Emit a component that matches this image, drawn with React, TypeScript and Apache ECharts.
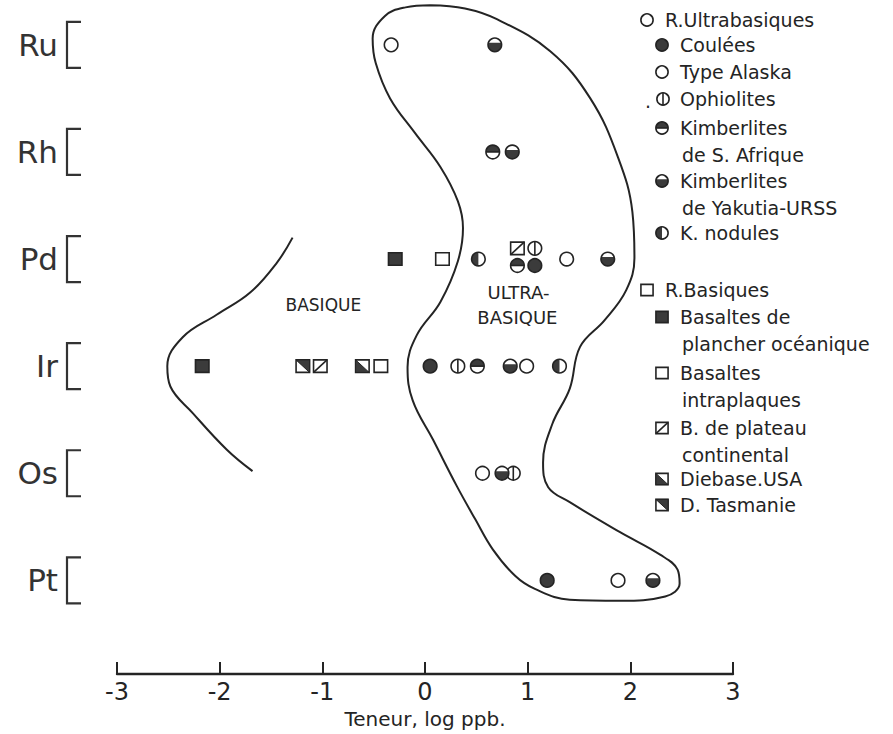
import React, { useEffect, useRef } from 'react';
import * as echarts from 'echarts';

const FONT = '"DejaVu Sans", "Noto Sans", sans-serif';
const INK = '#242424';
const DARK = '#3b3b3b';

// categories bottom (index 0) to top (index 5)
const categories = ['Pt', 'Os', 'Ir', 'Pd', 'Rh', 'Ru'];
const xTickValues = [-3, -2, -1, 0, 1, 2, 3];

// [log ppb, element index]
const typeAlaska = [[-0.33, 5], [1.38, 3], [0.99, 2], [0.56, 1], [1.88, 0]];
const coulees = [[1.07, 2.94], [0.05, 2], [1.19, 0]];
const ophiolites = [[1.07, 3.1], [0.32, 2], [0.86, 1]];
const kimbSAfrique = [[0.66, 4], [0.9, 2.94], [0.51, 2]];
const kimbYakutia = [[0.68, 5], [0.85, 4], [1.78, 3], [0.83, 2], [0.75, 1], [2.22, 0]];
const kNodules = [[0.52, 3], [1.31, 2]];
const basaltesOcean = [[-0.29, 3], [-2.17, 2]];
const basaltesIntra = [[0.17, 3], [-0.43, 2]];
const plateauCont = [[0.9, 3.1], [-1.02, 2]];
const diabaseUSA = [[-0.61, 2]];
const tasmanie = [[-1.19, 2]];

// envelopes [log ppb, element index]
const ultraEnvelope = [
  [0.05, 5.37], [0.39, 5.34], [0.7, 5.24], [1.22, 4.94], [1.61, 4.5], [1.88, 3.95],
  [2.02, 3.44], [2.04, 3.01], [1.96, 2.71], [1.75, 2.43], [1.51, 2.18], [1.41, 1.79],
  [1.24, 1.46], [1.15, 1.1], [1.2, 0.87], [1.41, 0.73], [1.9, 0.45], [2.29, 0.24],
  [2.46, 0.1], [2.48, -0.03], [2.34, -0.15], [1.9, -0.19], [1.41, -0.18], [1.07, -0.08],
  [0.88, 0.04], [0.66, 0.29], [0.49, 0.57], [0.31, 0.88], [0.08, 1.31], [-0.12, 1.68],
  [-0.17, 1.99], [-0.08, 2.29], [0.15, 2.6], [0.32, 2.98], [0.37, 3.29], [0.32, 3.54],
  [0.15, 3.86], [-0.1, 4.18], [-0.34, 4.5], [-0.48, 4.83], [-0.51, 5.06], [-0.39, 5.27],
  [-0.19, 5.35], [0.05, 5.37],
];
const basiqueEnvelope = [
  [-1.29, 3.2], [-1.44, 2.97], [-1.7, 2.69], [-2.03, 2.48], [-2.36, 2.27], [-2.51, 2.0],
  [-2.48, 1.81], [-2.26, 1.56], [-1.93, 1.22], [-1.68, 1.02],
];

const regionLabels = [
  { text: 'BASIQUE', x: -0.99, y: 2.57, size: 17 },
  { text: 'ULTRA-', x: 0.91, y: 2.69, size: 18 },
  { text: 'BASIQUE', x: 0.9, y: 2.45, size: 18 },
];

const legendItems = [
  { kind: 'circleOpen', lines: ['R.Ultrabasiques'], sx: 647, tx: 665, y: 20 },
  { kind: 'circleFilled', lines: ['Coulées'], sx: 662, tx: 680, y: 45 },
  { kind: 'circleOpen', lines: ['Type Alaska'], sx: 662, tx: 680, y: 72 },
  { kind: 'ophiolite', lines: ['Ophiolites'], sx: 663, tx: 680, y: 99 },
  { kind: 'kimbSA', lines: ['Kimberlites', 'de S. Afrique'], sx: 662, tx: 680, y: 128 },
  { kind: 'kimbYak', lines: ['Kimberlites', 'de Yakutia-URSS'], sx: 662, tx: 680, y: 181 },
  { kind: 'kNodule', lines: ['K. nodules'], sx: 662, tx: 680, y: 233 },
  { kind: 'squareOpen', lines: ['R.Basiques'], sx: 647, tx: 665, y: 290 },
  { kind: 'squareFilled', lines: ['Basaltes de', 'plancher océanique'], sx: 662, tx: 680, y: 317 },
  { kind: 'squareOpen', lines: ['Basaltes', 'intraplaques'], sx: 662, tx: 680, y: 373 },
  { kind: 'plateau', lines: ['B. de plateau', 'continental'], sx: 662, tx: 680, y: 428 },
  { kind: 'diabase', lines: ['Diebase.USA'], sx: 662, tx: 680, y: 479 },
  { kind: 'tasmanie', lines: ['D. Tasmanie'], sx: 662, tx: 680, y: 505 },
];

function symbolShapes(kind: string, cx: number, cy: number, s = 1): any[] {
  const r = 6.8 * s;
  const lw = 1.6;
  const arc = (a0: number, a1: number) => {
    const pts: number[][] = [];
    for (let i = 0; i <= 20; i++) {
      const a = a0 + ((a1 - a0) * i) / 20;
      pts.push([cx + r * Math.cos(a), cy + r * Math.sin(a)]);
    }
    return pts;
  };
  const outline = { type: 'circle', shape: { cx, cy, r }, style: { fill: 'none', stroke: INK, lineWidth: lw } };
  const w = 13.5 * s;
  const h = 12.5 * s;
  const x0 = cx - w / 2;
  const y0 = cy - h / 2;
  const box = (fill: string) => ({ type: 'rect', shape: { x: x0, y: y0, width: w, height: h }, style: { fill, stroke: INK, lineWidth: lw } });
  switch (kind) {
    case 'circleOpen':
      return [{ type: 'circle', shape: { cx, cy, r }, style: { fill: '#fff', stroke: INK, lineWidth: lw } }];
    case 'circleFilled':
      return [{ type: 'circle', shape: { cx, cy, r }, style: { fill: DARK, stroke: INK, lineWidth: lw } }];
    case 'ophiolite':
      return [
        { type: 'circle', shape: { cx, cy, r }, style: { fill: '#fff', stroke: INK, lineWidth: lw } },
        { type: 'line', shape: { x1: cx, y1: cy - r, x2: cx, y2: cy + r }, style: { stroke: INK, lineWidth: lw } },
      ];
    case 'kimbSA':
      return [
        { type: 'circle', shape: { cx, cy, r }, style: { fill: '#fff' } },
        { type: 'polygon', shape: { points: arc(Math.PI, 2 * Math.PI) }, style: { fill: DARK } },
        { type: 'line', shape: { x1: cx - r, y1: cy, x2: cx + r, y2: cy }, style: { stroke: INK, lineWidth: lw } },
        outline,
      ];
    case 'kimbYak':
      return [
        { type: 'circle', shape: { cx, cy, r }, style: { fill: '#fff' } },
        { type: 'polygon', shape: { points: arc(-0.3, Math.PI + 0.3) }, style: { fill: DARK } },
        outline,
      ];
    case 'kNodule':
      return [
        { type: 'circle', shape: { cx, cy, r }, style: { fill: '#fff' } },
        { type: 'polygon', shape: { points: arc(Math.PI / 2, (3 * Math.PI) / 2) }, style: { fill: DARK } },
        outline,
      ];
    case 'squareOpen':
      return [box('#fff')];
    case 'squareFilled':
      return [box(DARK)];
    case 'plateau':
      return [
        box('#fff'),
        { type: 'line', shape: { x1: x0, y1: y0 + h, x2: x0 + w, y2: y0 }, style: { stroke: INK, lineWidth: lw } },
      ];
    case 'diabase':
      return [
        box('#fff'),
        { type: 'polygon', shape: { points: [[x0, y0], [x0, y0 + h], [x0 + w, y0 + h]] }, style: { fill: DARK, stroke: INK, lineWidth: 1 } },
      ];
    case 'tasmanie':
      return [
        box('#fff'),
        { type: 'polygon', shape: { points: [[x0, y0], [x0 + w, y0], [x0 + w, y0 + h]] }, style: { fill: DARK, stroke: INK, lineWidth: 1 } },
      ];
    default:
      return [];
  }
}

function markerSeries(name: string, kind: string, data: number[][]) {
  return {
    name,
    type: 'custom',
    coordinateSystem: 'cartesian2d',
    clip: false,
    z: 5,
    data,
    encode: { x: 0, y: 1 },
    renderItem: (_params: any, api: any) => {
      const p = api.coord([api.value(0), api.value(1)]);
      return { type: 'group', children: symbolShapes(kind, p[0], p[1]) };
    },
  };
}

function buildLegend(): any[] {
  const out: any[] = [];
  legendItems.forEach((it) => {
    out.push({ type: 'group', children: symbolShapes(it.kind, it.sx, it.y, 0.9) });
    it.lines.forEach((line, i) => {
      out.push({
        type: 'text',
        x: i === 0 ? it.tx : it.tx + 2,
        y: it.y + i * 27,
        style: { text: line, fontSize: 19, fontFamily: FONT, fill: INK, verticalAlign: 'middle' },
      });
    });
  });
  out.push({
    type: 'text', x: 645, y: 101,
    style: { text: '.', fontSize: 19, fontFamily: FONT, fill: INK, verticalAlign: 'middle' },
  });
  return out;
}

export default function App() {
  const ref = useRef<HTMLDivElement>(null);
  useEffect(() => {
    if (!ref.current) return;
    const chart = echarts.init(ref.current, undefined, { renderer: 'svg' });
    const option: any = {
      animation: false,
      backgroundColor: '#ffffff',
      grid: { left: 117, right: 160, top: 2, bottom: 50 },
      xAxis: {
        type: 'value',
        min: -3,
        max: 3,
        interval: 1,
        axisLine: { show: true, onZero: false, lineStyle: { color: INK, width: 2.4 } },
        axisTick: { show: true, inside: true, length: 12, lineStyle: { color: INK, width: 2 } },
        axisLabel: { color: INK, fontSize: 24, fontFamily: FONT, margin: 6, customValues: xTickValues },
        splitLine: { show: false },
        name: 'Teneur, log ppb.',
        nameLocation: 'middle',
        nameGap: 33,
        nameTextStyle: { fontSize: 20, color: INK, fontFamily: FONT },
      },
      yAxis: { type: 'value', min: -0.875, max: 5.4, show: false },
      graphic: buildLegend(),
      series: [
        {
          name: 'ultra envelope', type: 'line', data: ultraEnvelope, smooth: 0.4, symbol: 'none', clip: false,
          lineStyle: { color: INK, width: 2 }, z: 2,
        },
        {
          name: 'basique envelope', type: 'line', data: basiqueEnvelope, smooth: 0.4, symbol: 'none', clip: false,
          lineStyle: { color: INK, width: 2 }, z: 2,
        },
        {
          name: 'elements', type: 'custom', coordinateSystem: 'cartesian2d', clip: false, z: 3,
          data: categories.map((_, i) => [-3, i]),
          encode: { x: 0, y: 1 },
          renderItem: (params: any, api: any) => {
            const p = api.coord([api.value(0), api.value(1)]);
            const bx = p[0] - 50;
            return {
              type: 'group',
              children: [
                {
                  type: 'text', x: p[0] - 59, y: p[1],
                  style: { text: categories[params.dataIndex], fontSize: 31, fontFamily: FONT, fill: '#333', align: 'right', verticalAlign: 'middle' },
                },
                {
                  type: 'polyline',
                  shape: { points: [[bx + 14, p[1] - 23], [bx, p[1] - 23], [bx, p[1] + 23], [bx + 14, p[1] + 23]] },
                  style: { stroke: '#333', lineWidth: 2.2, fill: 'none' },
                },
              ],
            };
          },
        },
        {
          name: 'regions', type: 'custom', coordinateSystem: 'cartesian2d', clip: false, z: 3,
          data: regionLabels.map((r) => [r.x, r.y]),
          encode: { x: 0, y: 1 },
          renderItem: (params: any, api: any) => {
            const p = api.coord([api.value(0), api.value(1)]);
            const r = regionLabels[params.dataIndex];
            return {
              type: 'text', x: p[0], y: p[1],
              style: { text: r.text, fontSize: r.size, fontFamily: FONT, fill: INK, align: 'center', verticalAlign: 'middle' },
            };
          },
        },
        markerSeries('Type Alaska', 'circleOpen', typeAlaska),
        markerSeries('Coulées', 'circleFilled', coulees),
        markerSeries('Ophiolites', 'ophiolite', ophiolites),
        markerSeries('Kimberlites de S. Afrique', 'kimbSA', kimbSAfrique),
        markerSeries('Kimberlites de Yakutia-URSS', 'kimbYak', kimbYakutia),
        markerSeries('K. nodules', 'kNodule', kNodules),
        markerSeries('Basaltes de plancher océanique', 'squareFilled', basaltesOcean),
        markerSeries('Basaltes intraplaques', 'squareOpen', basaltesIntra),
        markerSeries('B. de plateau continental', 'plateau', plateauCont),
        markerSeries('Diebase.USA', 'diabase', diabaseUSA),
        markerSeries('D. Tasmanie', 'tasmanie', tasmanie),
      ],
    };
    chart.setOption(option);
    return () => chart.dispose();
  }, []);
  return <div ref={ref} style={{ position: 'absolute', left: 0, top: 0, width: 893, height: 734 }} />;
}
